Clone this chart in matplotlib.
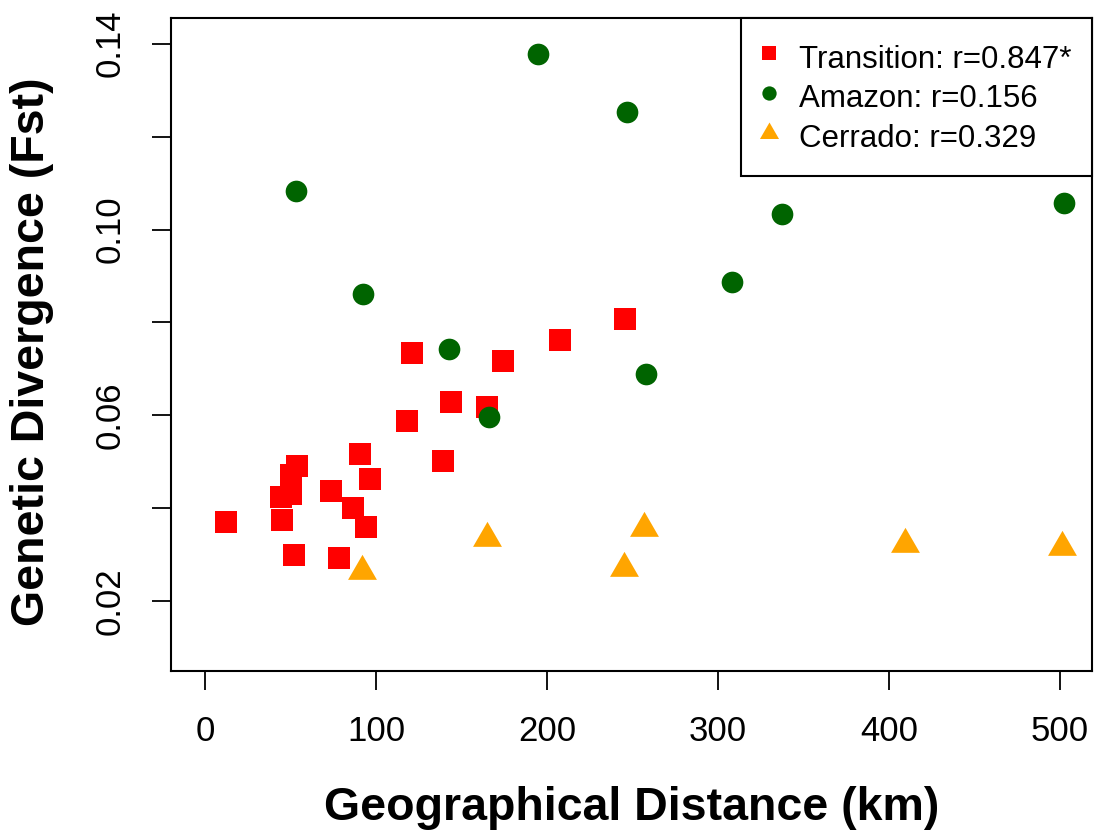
import matplotlib
matplotlib.use("Agg")
import matplotlib.pyplot as plt
from matplotlib.path import Path

# ---- data ----
transition_km = [120.7, 173.9, 143.5, 164.6, 117.8, 90.3, 138.8, 53.5, 96.1, 49.9, 49.9,
                 44.1, 44.7, 11.9, 73.3, 86.2, 93.8, 51.7, 78.0, 245.8, 207.3]
transition_fst = [0.0735, 0.0716, 0.0629, 0.0619, 0.0588, 0.0517, 0.0502, 0.0492, 0.0464, 0.0471, 0.0431,
                  0.0424, 0.0375, 0.0370, 0.0437, 0.0400, 0.0359, 0.0299, 0.0293, 0.0808, 0.0762]
amazon_km = [194.7, 246.8, 53.0, 91.9, 142.3, 166.0, 258.1, 308.2, 337.3, 502.4]
amazon_fst = [0.1377, 0.1254, 0.1082, 0.0862, 0.0743, 0.0596, 0.0690, 0.0888, 0.1034, 0.1058]
cerrado_km = [91.6, 164.6, 256.4, 245.1, 409.4, 501.0]
cerrado_fst = [0.0264, 0.0336, 0.0357, 0.0272, 0.0324, 0.0317]

labels = ["Transition: r=0.847*", "Amazon: r=0.156", "Cerrado: r=0.329"]
x_ticks = [0, 100, 200, 300, 400, 500]
y_ticks = [0.02, 0.04, 0.06, 0.08, 0.10, 0.12, 0.14]
y_ticklabels = ["0.02", "", "0.06", "", "0.10", "", "0.14"]
x_label = "Geographical Distance (km)"
y_label = "Genetic Divergence (Fst)"

plt.rcParams['font.family'] = ['Liberation Sans', 'DejaVu Sans']

# R-style triangle (pch 17) centred on its centroid
tri = Path([(0, 1), (-0.866, -0.5), (0.866, -0.5), (0, 1)],
           [Path.MOVETO, Path.LINETO, Path.LINETO, Path.CLOSEPOLY])

fig = plt.figure(figsize=(10.96, 8.32), dpi=100)
ax = fig.add_axes([0.1563, 0.1939, 0.8403, 0.7845])

ax.plot(transition_km, transition_fst, linestyle='none', marker='s', markersize=15.6,
        color='#FF0000', markeredgewidth=0, label=labels[0])
ax.plot(amazon_km, amazon_fst, linestyle='none', marker='o', markersize=15.6,
        color='#006400', markeredgewidth=0, label=labels[1])
ax.plot(cerrado_km, cerrado_fst, linestyle='none', marker=tri, markersize=24,
        color='#FFA500', markeredgewidth=0, label=labels[2])

ax.set_xlim(-20, 519)
ax.set_ylim(0.00505, 0.14554)

ax.set_xticks(x_ticks)
ax.set_xticklabels([str(v) for v in x_ticks])
ax.set_yticks(y_ticks)
ax.set_yticklabels(y_ticklabels)
ax.tick_params(axis='both', length=14, width=1.3, pad=18, labelsize=25, color='black')
for t in ax.get_yticklabels():
    t.set_rotation(90)
    t.set_va('center')

for s in ax.spines.values():
    s.set_linewidth(1.5)

ax.set_xlabel(x_label, fontsize=33.5, fontweight='bold')
ax.xaxis.set_label_coords(0.5, -0.176)
ax.set_ylabel(y_label, fontsize=33.5, fontweight='bold')
ax.yaxis.set_label_coords(-0.127, 0.488)

leg = ax.legend(loc='upper right', borderaxespad=0, fontsize=22.5, frameon=True,
                fancybox=False, edgecolor='black', markerscale=0.66,
                handlelength=0.47, handleheight=1.45, handletextpad=0.73,
                borderpad=0.66, labelspacing=0.09)
leg.get_frame().set_linewidth(1.5)
leg.get_frame().set_alpha(1)

fig.savefig("out.png", dpi=100)
